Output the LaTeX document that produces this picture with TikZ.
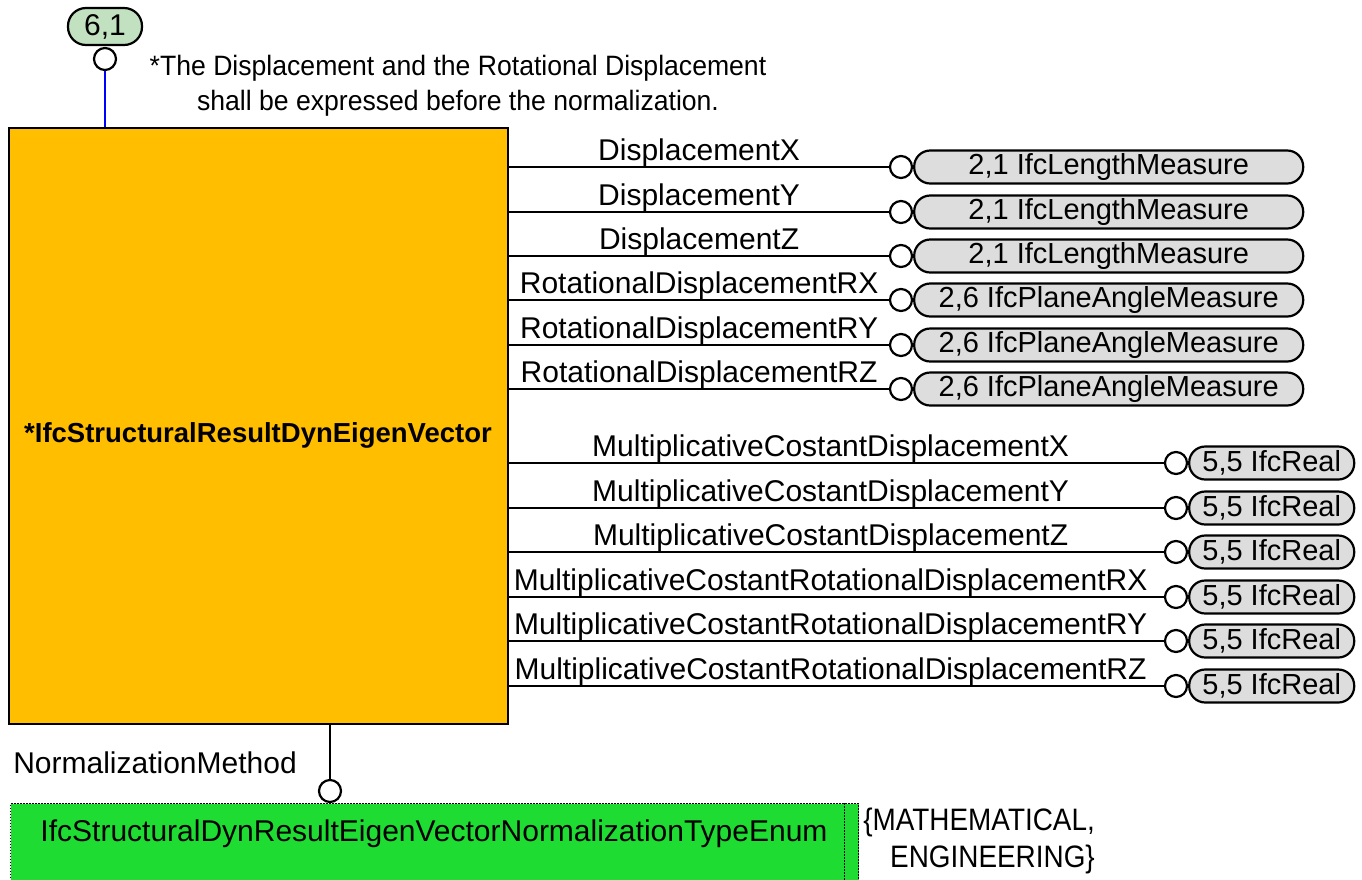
\documentclass[tikz,border=0pt]{standalone}
\usepackage{fontspec}
\setmainfont{Liberation Sans}
\usepackage{graphicx}
\usepackage{tikz}
\usetikzlibrary{positioning}

\definecolor{entityorange}{RGB}{255,190,0}
\definecolor{enumgreen}{RGB}{30,220,50}
\definecolor{typegray}{RGB}{221,221,221}
\definecolor{refgreen}{RGB}{193,225,193}

\begin{document}
\begin{tikzpicture}[x=1pt,y=-1pt,line width=2.6pt,
  lbl/.style={font=\fontsize{30}{36}\selectfont},
  attr/.style={draw,circle,fill=white,minimum size=22pt,inner sep=0pt,line width=2.2pt},
  typebox/.style={draw,fill=typegray,rounded corners=16pt,minimum height=33pt,inner sep=0pt,line width=2.2pt,font=\fontsize{29}{36}\selectfont},
  link/.style={midway,anchor=base,yshift=7pt,inner sep=0pt,lbl},
  dotline/.style={dash pattern=on 1.5pt off 1.5pt,line width=1.4pt}]
\useasboundingbox (0,0) rectangle (1362,879);
\clip (0,0) rectangle (1362,879);

% entity
\node[draw,fill=entityorange,minimum width=499pt,minimum height=596pt,inner sep=0pt] (entity) at (258.5,426) {};
\node[font=\bfseries\fontsize{27.5}{33}\selectfont,inner sep=0pt,anchor=base] (entity_name) at (258,442) {*IfcStructuralResultDynEigenVector};

% supertype reference and note
\node[draw,fill=refgreen,rounded corners=18pt,minimum width=74pt,minimum height=37pt,inner sep=0pt,line width=2.2pt,lbl] (ref_61) at (105,26.5) {6,1};
\node[attr] (ref_61_o) at (105,59) {};
\draw[blue] (ref_61_o) -- (entity.north -| ref_61_o);
\node[font=\fontsize{28}{35}\selectfont,align=center,anchor=north,inner sep=0pt] (note) at (458,54) {\scalebox{0.95}[1]{*The Displacement and the Rotational Displacement}\\\scalebox{0.95}[1]{shall be expressed before the normalization.}};

% displacements
\node[attr] (dx_o) at (901,167) {};
\node[typebox,minimum width=389pt,right=0pt of dx_o] (dx_t) {2,1 IfcLengthMeasure};
\draw (entity.east |- dx_o) -- (dx_o) node[link] {DisplacementX};
\node[attr] (dy_o) at (901,212) {};
\node[typebox,minimum width=389pt,right=0pt of dy_o] (dy_t) {2,1 IfcLengthMeasure};
\draw (entity.east |- dy_o) -- (dy_o) node[link] {DisplacementY};
\node[attr] (dz_o) at (901,256) {};
\node[typebox,minimum width=389pt,right=0pt of dz_o] (dz_t) {2,1 IfcLengthMeasure};
\draw (entity.east |- dz_o) -- (dz_o) node[link] {DisplacementZ};
\node[attr] (rx_o) at (901,300) {};
\node[typebox,minimum width=389pt,right=0pt of rx_o] (rx_t) {2,6 IfcPlaneAngleMeasure};
\draw (entity.east |- rx_o) -- (rx_o) node[link] {RotationalDisplacementRX};
\node[attr] (ry_o) at (901,345) {};
\node[typebox,minimum width=389pt,right=0pt of ry_o] (ry_t) {2,6 IfcPlaneAngleMeasure};
\draw (entity.east |- ry_o) -- (ry_o) node[link] {RotationalDisplacementRY};
\node[attr] (rz_o) at (901,389) {};
\node[typebox,minimum width=389pt,right=0pt of rz_o] (rz_t) {2,6 IfcPlaneAngleMeasure};
\draw (entity.east |- rz_o) -- (rz_o) node[link] {RotationalDisplacementRZ};

% multiplicative constants
\node[attr] (mdx_o) at (1176,463) {};
\node[typebox,minimum width=165pt,right=0pt of mdx_o] (mdx_t) {5,5 IfcReal};
\draw (entity.east |- mdx_o) -- (mdx_o) node[link,xshift=-6pt] {MultiplicativeCostantDisplacementX};
\node[attr] (mdy_o) at (1176,508) {};
\node[typebox,minimum width=165pt,right=0pt of mdy_o] (mdy_t) {5,5 IfcReal};
\draw (entity.east |- mdy_o) -- (mdy_o) node[link,xshift=-6pt] {MultiplicativeCostantDisplacementY};
\node[attr] (mdz_o) at (1176,552) {};
\node[typebox,minimum width=165pt,right=0pt of mdz_o] (mdz_t) {5,5 IfcReal};
\draw (entity.east |- mdz_o) -- (mdz_o) node[link,xshift=-6pt] {MultiplicativeCostantDisplacementZ};
\node[attr] (mrx_o) at (1176,597) {};
\node[typebox,minimum width=165pt,right=0pt of mrx_o] (mrx_t) {5,5 IfcReal};
\draw (entity.east |- mrx_o) -- (mrx_o) node[link,xshift=-6pt] {MultiplicativeCostantRotationalDisplacementRX};
\node[attr] (mry_o) at (1176,641) {};
\node[typebox,minimum width=165pt,right=0pt of mry_o] (mry_t) {5,5 IfcReal};
\draw (entity.east |- mry_o) -- (mry_o) node[link,xshift=-6pt] {MultiplicativeCostantRotationalDisplacementRY};
\node[attr] (mrz_o) at (1176,686) {};
\node[typebox,minimum width=165pt,right=0pt of mrz_o] (mrz_t) {5,5 IfcReal};
\draw (entity.east |- mrz_o) -- (mrz_o) node[link,xshift=-6pt] {MultiplicativeCostantRotationalDisplacementRZ};

% normalization enum
\node[attr] (norm_o) at (330,791) {};
\draw (entity.south -| norm_o) -- (norm_o);
\node[lbl,anchor=base west,inner sep=0pt] (norm_lbl) at (12,773) {NormalizationMethod};
\node[draw,dotline,fill=enumgreen,minimum width=848pt,minimum height=100pt,inner sep=0pt,anchor=north west] (enum) at (10,803) {};
\draw[dotline] ([xshift=-15pt]enum.north east) -- ([xshift=-15pt]enum.south east);
\node[lbl,inner sep=0pt,anchor=base] (enum_name) at (434,841) {IfcStructuralDynResultEigenVectorNormalizationTypeEnum};
\node[font=\fontsize{31}{37}\selectfont,align=right,anchor=north west,inner sep=0pt] (enum_vals) at (862,807) {\scalebox{0.9}[1]{\{MATHEMATICAL,}\\\scalebox{0.9}[1]{ENGINEERING\}}};
\end{tikzpicture}
\end{document}
